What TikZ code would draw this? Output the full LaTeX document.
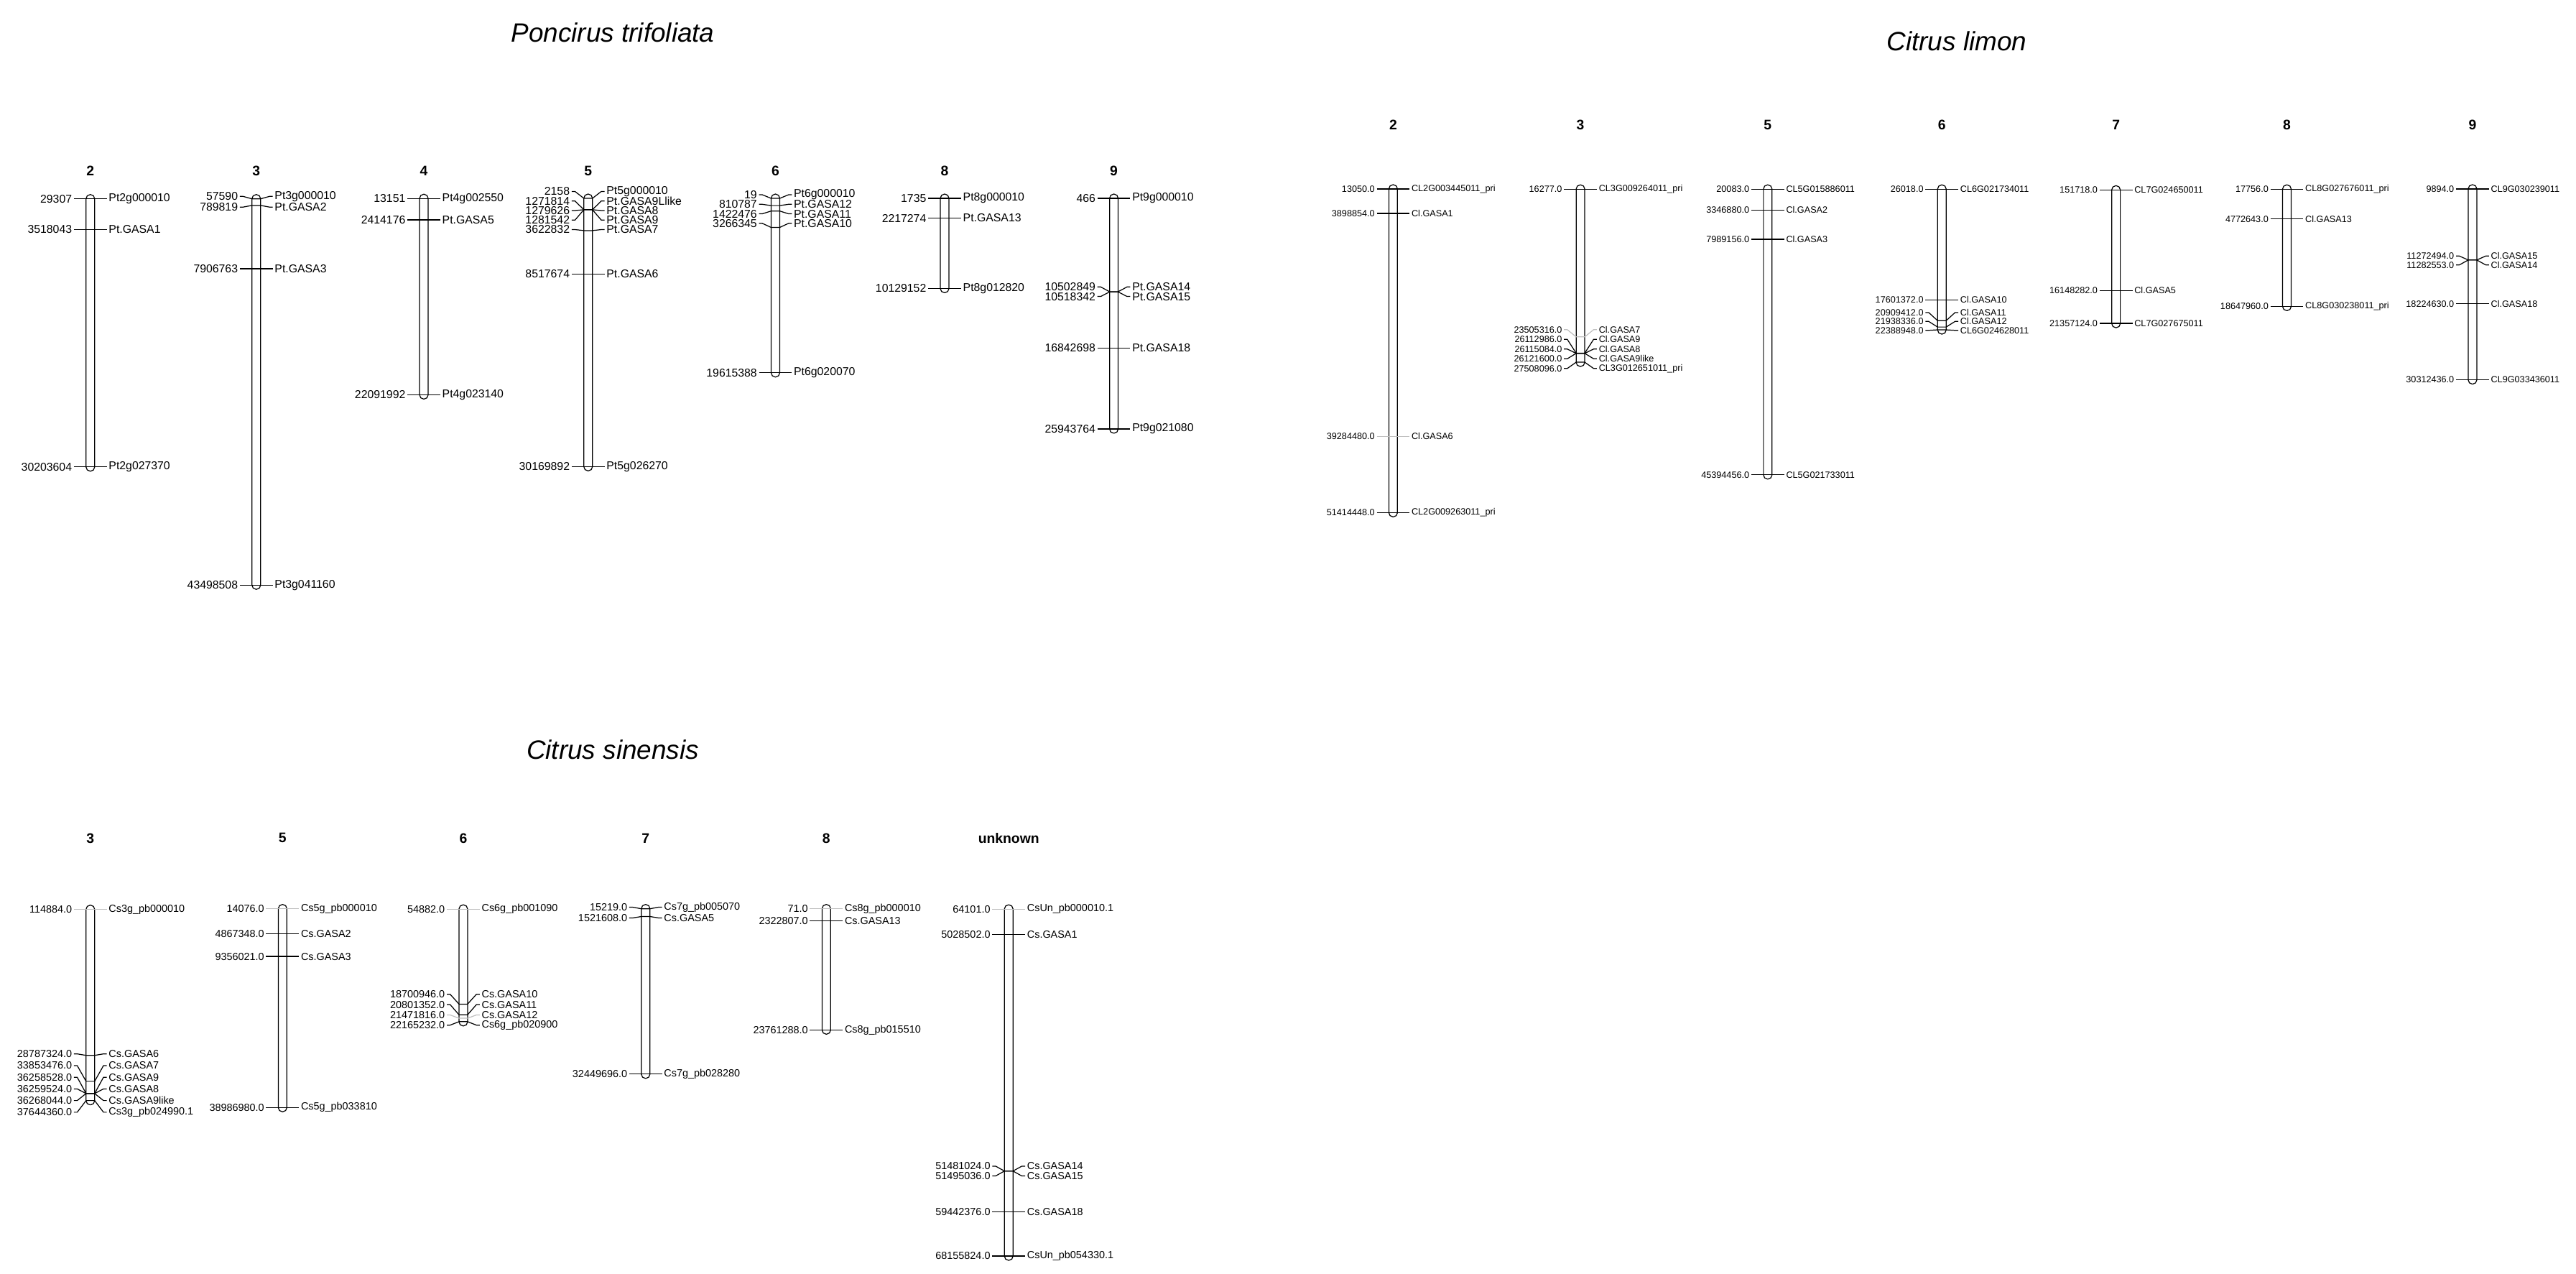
\documentclass[tikz,border=0pt]{standalone}
\usepackage{fontspec}
\setmainfont{Liberation Sans}
\usetikzlibrary{calc}
\newcounter{gc}
\newcommand\gene[6][]{%
\stepcounter{gc}%
\edef\gn{\arabic{gc}}%
\node[numlab] (L\gn) at ({#2-10},#4) {#5};
\node[genelab] (R\gn) at ({#2+10},#4) {#6};
\coordinate (A\gn) at ({#2-2.6},#3);
\coordinate (B\gn) at ({#2+2.6},#3);
\draw[conn,#1] (L\gn.east) -- ++(2,0) -- (A\gn) -- (B\gn) -- ($(R\gn.west)+(-2,0)$) -- (R\gn.west);
}
\newcommand\chrom[3]{\draw[chromo] ({#1-2.6},{#2-2.6}) rectangle ({#1+2.6},{#3+2.6});}
\begin{document}
\begin{tikzpicture}[x=0.2287mm,y=-0.2287mm,
  chromo/.style={line width=0.35pt,rounded corners=1.6pt},
  conn/.style={line width=0.35pt},
  faint/.style={draw=black!25},
  numlab/.style={anchor=east,inner sep=0.6pt,font=\fontsize{4.5}{5}\selectfont},
  genelab/.style={anchor=west,inner sep=0.6pt,font=\fontsize{4.5}{5}\selectfont},
  chrnum/.style={font=\fontsize{5.5}{6}\selectfont\bfseries},
  title/.style={font=\fontsize{10.5}{12}\selectfont\itshape}]
\useasboundingbox (0,0) rectangle (1568,775);
\node[title] (t1) at (373,20) {Poncirus trifoliata};
\node[title] (t2) at (1191,25) {Citrus limon};
\node[title] (t3) at (373,456) {Citrus sinensis};
% ---------- Poncirus ----------
\begin{scope}
\foreach \x/\n in {55/2,156/3,258/4,358/5,472/6,575/8,678/9} \node[chrnum] (pc\n) at (\x,104) {\n};
\chrom{55}{121}{284.1}
\gene{55}{121}{121}{29307}{Pt2g000010}
\gene{55}{139.7}{139.7}{3518043}{Pt.GASA1}
\gene{55}{284.1}{284.1}{30203604}{Pt2g027370}
\chrom{156}{121}{356}
\gene{156}{121}{119.5}{57590}{Pt3g000010}
\gene{156}{125}{126}{789819}{Pt.GASA2}
\gene{156}{163.5}{163.5}{7906763}{Pt.GASA3}
\gene{156}{356}{356}{43498508}{Pt3g041160}
\chrom{258}{120.8}{240.2}
\gene{258}{120.8}{120.8}{13151}{Pt4g002550}
\gene{258}{133.8}{133.8}{2414176}{Pt.GASA5}
\gene{258}{240.2}{240.2}{22091992}{Pt4g023140}
\chrom{358}{120.7}{283.9}
\gene{358}{120.7}{116.5}{2158}{Pt5g000010}
\gene{358}{127.6}{122.3}{1271814}{Pt.GASA9Llike}
\gene{358}{127.6}{128.1}{1279626}{Pt.GASA8}
\gene{358}{127.6}{133.9}{1281542}{Pt.GASA9}
\gene{358}{140.3}{139.7}{3622832}{Pt.GASA7}
\gene{358}{166.8}{166.8}{8517674}{Pt.GASA6}
\gene{358}{283.9}{283.9}{30169892}{Pt5g026270}
\chrom{472}{120.7}{226.8}
\gene{472}{120.7}{118.5}{19}{Pt6g000010}
\gene{472}{125.1}{124.3}{810787}{Pt.GASA12}
\gene{472}{128.4}{130.1}{1422476}{Pt.GASA11}
\gene{472}{138.4}{135.9}{3266345}{Pt.GASA10}
\gene{472}{226.8}{226.8}{19615388}{Pt6g020070}
\chrom{575}{120.7}{175.5}
\gene{575}{120.7}{120.7}{1735}{Pt8g000010}
\gene{575}{132.7}{132.7}{2217274}{Pt.GASA13}
\gene{575}{175.5}{175.5}{10129152}{Pt8g012820}
\chrom{678}{120.7}{261}
\gene{678}{120.7}{120.7}{466}{Pt9g000010}
\gene{678}{177.5}{174.6}{10502849}{Pt.GASA14}
\gene{678}{177.6}{180.4}{10518342}{Pt.GASA15}
\gene{678}{211.8}{211.8}{16842698}{Pt.GASA18}
\gene{678}{261}{261}{25943764}{Pt9g021080}
\end{scope}
% ---------- Citrus limon ----------
\begin{scope}[numlab/.append style={font=\fontsize{3.6}{4}\selectfont},
  genelab/.append style={font=\fontsize{3.6}{4}\selectfont}]
\foreach \x/\n in {848/2,962/3,1076/5,1182/6,1288/7,1392/8,1505/9} \node[chrnum] (lc\n) at (\x,76) {\n};
\chrom{848}{115}{311.9}
\gene{848}{115}{115}{13050.0}{CL2G003445011\_pri}
\gene{848}{129.9}{129.9}{3898854.0}{Cl.GASA1}
\gene[faint]{848}{265.5}{265.5}{39284480.0}{Cl.GASA6}
\gene{848}{311.9}{311.9}{51414448.0}{CL2G009263011\_pri}
\chrom{962}{115.1}{220.4}
\gene{962}{115.1}{115.1}{16277.0}{CL3G009264011\_pri}
\gene[faint]{962}{205}{200.6}{23505316.0}{Cl.GASA7}
\gene{962}{214.9}{206.5}{26112986.0}{Cl.GASA9}
\gene{962}{215}{212.4}{26115084.0}{Cl.GASA8}
\gene{962}{215}{218.3}{26121600.0}{Cl.GASA9like}
\gene{962}{220.4}{224.2}{27508096.0}{CL3G012651011\_pri}
\chrom{1076}{115.1}{288.9}
\gene{1076}{115.1}{115.1}{20083.0}{CL5G015886011}
\gene{1076}{127.8}{127.8}{3346880.0}{Cl.GASA2}
\gene{1076}{145.6}{145.6}{7989156.0}{Cl.GASA3}
\gene{1076}{288.9}{288.9}{45394456.0}{CL5G021733011}
\chrom{1182}{115.1}{200.7}
\gene{1182}{115.1}{115.1}{26018.0}{CL6G021734011}
\gene{1182}{182.4}{182.4}{17601372.0}{Cl.GASA10}
\gene{1182}{195.1}{190.2}{20909412.0}{Cl.GASA11}
\gene{1182}{199}{195.6}{21938336.0}{Cl.GASA12}
\gene{1182}{200.7}{201}{22388948.0}{CL6G024628011}
\chrom{1288}{115.6}{196.8}
\gene{1288}{115.6}{115.6}{151718.0}{CL7G024650011}
\gene{1288}{176.8}{176.8}{16148282.0}{Cl.GASA5}
\gene{1288}{196.8}{196.8}{21357124.0}{CL7G027675011}
\chrom{1392}{115.1}{186.4}
\gene{1392}{115.1}{115.1}{17756.0}{CL8G027676011\_pri}
\gene{1392}{133.3}{133.3}{4772643.0}{Cl.GASA13}
\gene{1392}{186.4}{186.4}{18647960.0}{CL8G030238011\_pri}
\chrom{1505}{115}{231.1}
\gene{1505}{115}{115}{9894.0}{CL9G030239011}
\gene{1505}{158.2}{155.8}{11272494.0}{Cl.GASA15}
\gene{1505}{158.2}{161.2}{11282553.0}{Cl.GASA14}
\gene{1505}{184.8}{184.8}{18224630.0}{Cl.GASA18}
\gene{1505}{231.1}{231.1}{30312436.0}{CL9G033436011}
\end{scope}
% ---------- Citrus sinensis ----------
\begin{scope}[numlab/.append style={font=\fontsize{4.1}{4.5}\selectfont},
  genelab/.append style={font=\fontsize{4.1}{4.5}\selectfont}]
\foreach \x/\n in {55/3,172/5,282/6,393/7,503/8,614/unknown} \node[chrnum] (sc\n) at (\x,510) {\n};
\chrom{55}{553.4}{669.7}
\gene[faint]{55}{553.4}{553.4}{114884.0}{Cs3g\_pb000010}
\gene{55}{642.2}{641.3}{28787324.0}{Cs.GASA6}
\gene{55}{658}{648.4}{33853476.0}{Cs.GASA7}
\gene{55}{665.4}{655.5}{36258528.0}{Cs.GASA9}
\gene{55}{665.4}{662.6}{36259524.0}{Cs.GASA8}
\gene{55}{665.4}{669.7}{36268044.0}{Cs.GASA9like}
\gene{55}{669.7}{676.8}{37644360.0}{Cs3g\_pb024990.1}
\chrom{172}{553}{673.9}
\gene[faint]{172}{553}{553}{14076.0}{Cs5g\_pb000010}
\gene{172}{568.1}{568.1}{4867348.0}{Cs.GASA2}
\gene{172}{582}{582}{9356021.0}{Cs.GASA3}
\gene{172}{673.9}{673.9}{38986980.0}{Cs5g\_pb033810}
\chrom{282}{553.2}{621.7}
\gene[faint]{282}{553.2}{553.2}{54882.0}{Cs6g\_pb001090}
\gene{282}{611}{605}{18700946.0}{Cs.GASA10}
\gene{282}{617.5}{611.3}{20801352.0}{Cs.GASA11}
\gene[faint]{282}{619.6}{617.6}{21471816.0}{Cs.GASA12}
\gene{282}{621.7}{623.8}{22165232.0}{Cs6g\_pb020900}
\chrom{393}{553}{653.6}
\gene{393}{553}{552}{15219.0}{Cs7g\_pb005070}
\gene{393}{557.7}{558.6}{1521608.0}{Cs.GASA5}
\gene{393}{653.6}{653.6}{32449696.0}{Cs7g\_pb028280}
\chrom{503}{553}{626.7}
\gene[faint]{503}{553}{553}{71.0}{Cs8g\_pb000010}
\gene{503}{560.2}{560.2}{2322807.0}{Cs.GASA13}
\gene{503}{626.7}{626.7}{23761288.0}{Cs8g\_pb015510}
\chrom{614}{553.2}{764.3}
\gene[faint]{614}{553.2}{553.2}{64101.0}{CsUn\_pb000010.1}
\gene{614}{568.6}{568.6}{5028502.0}{Cs.GASA1}
\gene{614}{712.6}{709.6}{51481024.0}{Cs.GASA14}
\gene{614}{712.6}{715.6}{51495036.0}{Cs.GASA15}
\gene{614}{737.3}{737.3}{59442376.0}{Cs.GASA18}
\gene{614}{764.3}{764.3}{68155824.0}{CsUn\_pb054330.1}
\end{scope}
\end{tikzpicture}
\end{document}
